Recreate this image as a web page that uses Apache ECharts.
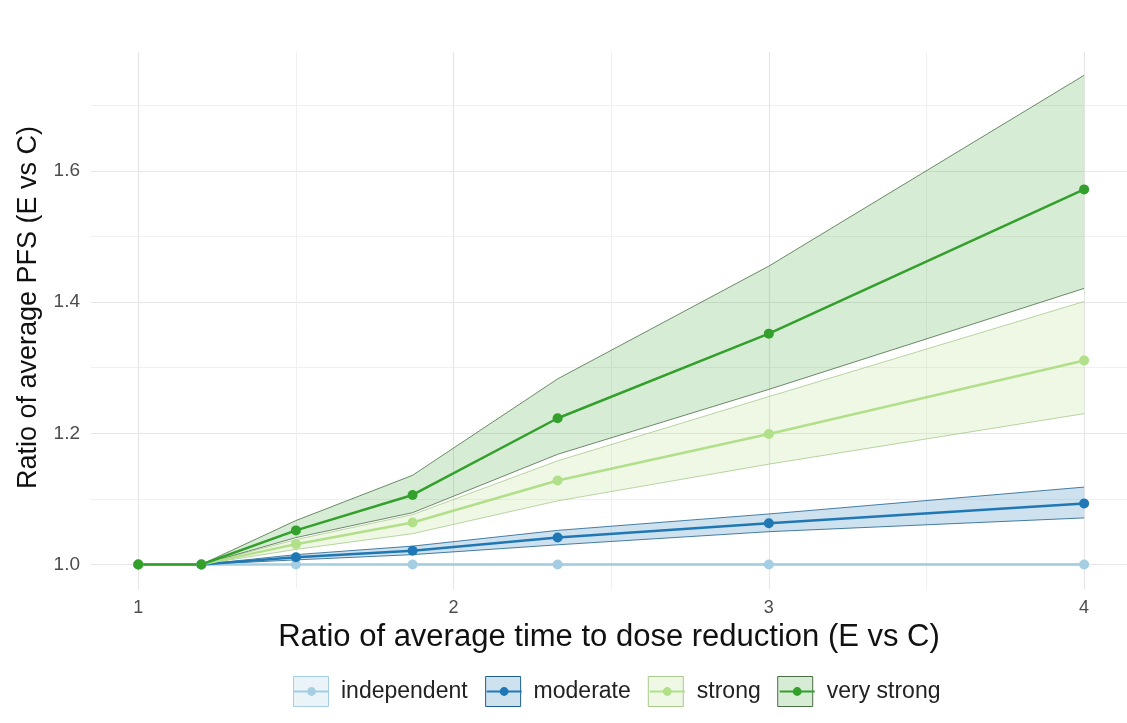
<!DOCTYPE html>
<html>
<head>
<meta charset="utf-8">
<script src="https://cdn.jsdelivr.net/npm/echarts@6/dist/echarts.min.js"></script>
<style>
    html, body { margin: 0; padding: 0; background: #ffffff; }
    #chart { width: 1127px; height: 723px; }
</style>
</head>
<body>
<div id="chart"></div>
<script>
const X_VALUES = [1, 1.2, 1.5, 1.87, 2.33, 3, 4];
const GROUPS = ["independent", "moderate", "strong", "very strong"];

const independentMean = [1, 1, 1, 1, 1, 1, 1];
const independentLower = [1, 1, 1, 0.999, 0.999, 0.999, 0.999];
const independentUpper = [1, 1, 1, 1.001, 1.001, 1.001, 1.001];

const moderateMean = [1, 1, 1.011, 1.021, 1.041, 1.063, 1.093];
const moderateLower = [1, 1, 1.007, 1.015, 1.030, 1.050, 1.071];
const moderateUpper = [1, 1, 1.015, 1.028, 1.052, 1.077, 1.118];

const strongMean = [1, 1, 1.031, 1.064, 1.128, 1.199, 1.311];
const strongLower = [1, 1, 1.023, 1.047, 1.097, 1.153, 1.230];
const strongUpper = [1, 1, 1.038, 1.076, 1.158, 1.256, 1.401];

const veryStrongMean = [1, 1, 1.052, 1.106, 1.223, 1.352, 1.572];
const veryStrongLower = [1, 1, 1.041, 1.079, 1.168, 1.267, 1.421];
const veryStrongUpper = [1, 1, 1.067, 1.136, 1.283, 1.455, 1.746];

const X_TICKS = [1, 2, 3, 4];
const X_MINOR = [1.5, 2.5, 3.5];
const Y_TICKS = [1.0, 1.2, 1.4, 1.6];
const Y_MINOR = [1.1, 1.3, 1.5, 1.7];

const FONT = "Liberation Sans, Arial, sans-serif";

const groupData = {
    "independent": { mean: independentMean, lower: independentLower, upper: independentUpper },
    "moderate": { mean: moderateMean, lower: moderateLower, upper: moderateUpper },
    "strong": { mean: strongMean, lower: strongLower, upper: strongUpper },
    "very strong": { mean: veryStrongMean, lower: veryStrongLower, upper: veryStrongUpper },
};

const groupStyle = {
    "independent": { line: "#a6cee3", fill: "rgba(166, 206, 227, 0.25)", edge: "#a6cee3" },
    "moderate": { line: "#1f78b4", fill: "rgba(31, 120, 180, 0.22)", edge: "#1d5f8c" },
    "strong": { line: "#b2df8a", fill: "rgba(178, 223, 138, 0.22)", edge: "#a9c98f" },
    "very strong": { line: "#33a02c", fill: "rgba(51, 160, 44, 0.2)", edge: "#4b6e47" },
};

// ribbon: one polygon between lower and upper, drawn once per group
function buildBandSeries(group) {
    const data = groupData[group];
    const style = groupStyle[group];
    return {
        name: group + " band",
        type: "custom",
        silent: true,
        z: 1,
        data: X_VALUES.map((x, i) => [x, data.lower[i], data.upper[i]]),
        encode: { x: 0, y: [1, 2] },
        renderItem(params, api) {
            if (params.dataIndex !== 0) {
                return null;
            }
            const upperPts = X_VALUES.map((x, i) => api.coord([x, data.upper[i]]));
            const lowerPts = X_VALUES.map((x, i) => api.coord([x, data.lower[i]]));
            const polygon = upperPts.concat(lowerPts.slice().reverse());
            return {
                type: "group",
                children: [
                    {
                        type: "polygon",
                        shape: { points: polygon },
                        style: { fill: style.fill, stroke: null },
                    },
                    {
                        type: "polyline",
                        shape: { points: upperPts },
                        style: { fill: null, stroke: style.edge, lineWidth: 0.8 },
                    },
                    {
                        type: "polyline",
                        shape: { points: lowerPts },
                        style: { fill: null, stroke: style.edge, lineWidth: 0.8 },
                    },
                ],
            };
        },
    };
}

function buildLineSeries(group) {
    const style = groupStyle[group];
    return {
        name: group,
        type: "line",
        data: X_VALUES.map((x, i) => [x, groupData[group].mean[i]]),
        symbol: "circle",
        symbolSize: 10,
        z: 3,
        lineStyle: { color: style.line, width: 2.5 },
        itemStyle: { color: style.line },
    };
}

const series = [];
GROUPS.forEach((g) => series.push(buildBandSeries(g)));
GROUPS.forEach((g) => series.push(buildLineSeries(g)));

const legendCommon = {
    left: 293,
    orient: "horizontal",
    padding: 0,
    itemWidth: 35,
    itemGap: 18,
    selectedMode: false,
};

const option = {
    animation: false,
    backgroundColor: "#ffffff",
    grid: {
        left: 91,
        right: 0,
        top: 52,
        bottom: 134,
        outerBoundsMode: "none",
    },
    legend: [
        {
            ...legendCommon,
            top: 676,
            itemHeight: 30,
            textStyle: { color: "rgba(0,0,0,0)", fontSize: 23, fontFamily: FONT, padding: [0, 0, 0, 7] },
            data: GROUPS.map((g) => ({
                name: g,
                icon: "rect",
                itemStyle: {
                    color: groupStyle[g].fill,
                    borderColor: groupStyle[g].edge,
                    borderWidth: 1,
                },
            })),
        },
        {
            ...legendCommon,
            top: 680,
            itemHeight: 11,
            textStyle: { color: "#222222", fontSize: 23, fontFamily: FONT, padding: [0, 0, 0, 7] },
            data: GROUPS,
        },
    ],
    xAxis: [
        {
            type: "value",
            min: 0.85,
            max: 4.136,
            name: "Ratio of average time to dose reduction (E vs C)",
            nameLocation: "middle",
            nameGap: 29,
            nameTextStyle: { color: "#111111", fontSize: 31, fontFamily: FONT },
            axisLine: { show: false },
            axisTick: { show: false, customValues: X_TICKS },
            axisLabel: {
                customValues: X_TICKS,
                color: "#4d4d4d",
                fontSize: 18,
                fontFamily: FONT,
                margin: 10,
            },
            splitLine: { show: true, lineStyle: { color: "#e6e6e6", width: 1.2 } },
        },
        {
            type: "value",
            position: "top",
            min: 0.85,
            max: 4.136,
            axisLine: { show: false },
            axisTick: { show: false, customValues: X_MINOR },
            axisLabel: { show: false },
            splitLine: { show: true, lineStyle: { color: "#f0f0f0", width: 1 } },
        },
    ],
    yAxis: [
        {
            type: "value",
            min: 0.9626,
            max: 1.7815,
            name: "Ratio of average PFS (E vs C)",
            nameLocation: "middle",
            nameGap: 49,
            nameTextStyle: { color: "#111111", fontSize: 27, fontFamily: FONT, padding: [0, 0, 0, 26] },
            axisLine: { show: false },
            axisTick: { show: false, customValues: Y_TICKS },
            axisLabel: {
                customValues: Y_TICKS,
                formatter: (v) => Number(v).toFixed(1),
                color: "#4d4d4d",
                fontSize: 19,
                fontFamily: FONT,
                margin: 11,
            },
            splitLine: { show: true, lineStyle: { color: "#e6e6e6", width: 1.2 } },
        },
        {
            type: "value",
            position: "right",
            min: 0.9626,
            max: 1.7815,
            axisLine: { show: false },
            axisTick: { show: false, customValues: Y_MINOR },
            axisLabel: { show: false },
            splitLine: { show: true, lineStyle: { color: "#f0f0f0", width: 1 } },
        },
    ],
    series: series,
};

const chart = echarts.init(document.getElementById("chart"));
chart.setOption(option);
</script>
</body>
</html>
